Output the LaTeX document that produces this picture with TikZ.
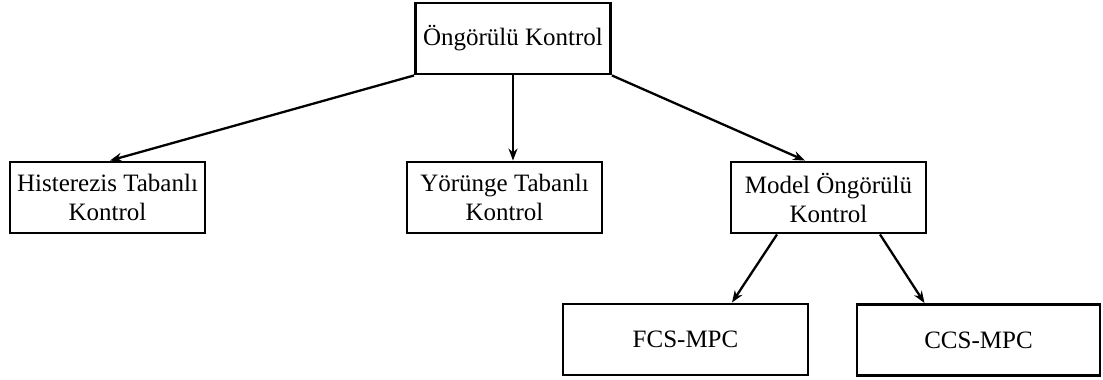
\documentclass[tikz,border=0pt]{standalone}
\usepackage{fontspec}
\setmainfont{Liberation Serif}
\usetikzlibrary{arrows.meta,calc}

\begin{document}
\begin{tikzpicture}[x=1pt,y=-1pt,
  blok/.style={draw, line width=2.9pt, minimum width=195pt, minimum height=71pt, align=center, inner sep=0pt, font=\fontsize{25}{29}\selectfont},
  ok/.style={-{Stealth[length=12pt,width=9pt]}, line width=2.3pt}]
\useasboundingbox (0,0) rectangle (1103,380);
% kutular
\node[blok] (ana) at (513,38.5) {Öngörülü Kontrol};
\node[blok] (hist) at (107.5,197.5) {Histerezis Tabanlı\\Kontrol};
\node[blok] (yor) at (504.5,197.5) {Yörünge Tabanlı\\Kontrol};
\node[blok] (mpc) at (828.5,197.5) {Model Öngörülü\\Kontrol};
\node[blok, minimum width=245pt] (fcs) at (685.5,339.5) {FCS-MPC};
\node[blok, minimum width=243pt] (ccs) at (978.5,340) {CCS-MPC};
% oklar
\draw[ok] (ana.south west) -- ($(hist.north)+(2.5,0)$);
\draw[ok] (ana.south) -- (ana.south |- yor.north);
\draw[ok] (ana.south east) -- ($(mpc.north)+(-23.5,0)$);
\draw[ok] ($(mpc.south)+(-51.5,0)$) -- ($(fcs.north)+(46.5,0)$);
\draw[ok] ($(mpc.south)+(51.5,0)$) -- ($(ccs.north)+(-54,0)$);
\end{tikzpicture}
\end{document}
